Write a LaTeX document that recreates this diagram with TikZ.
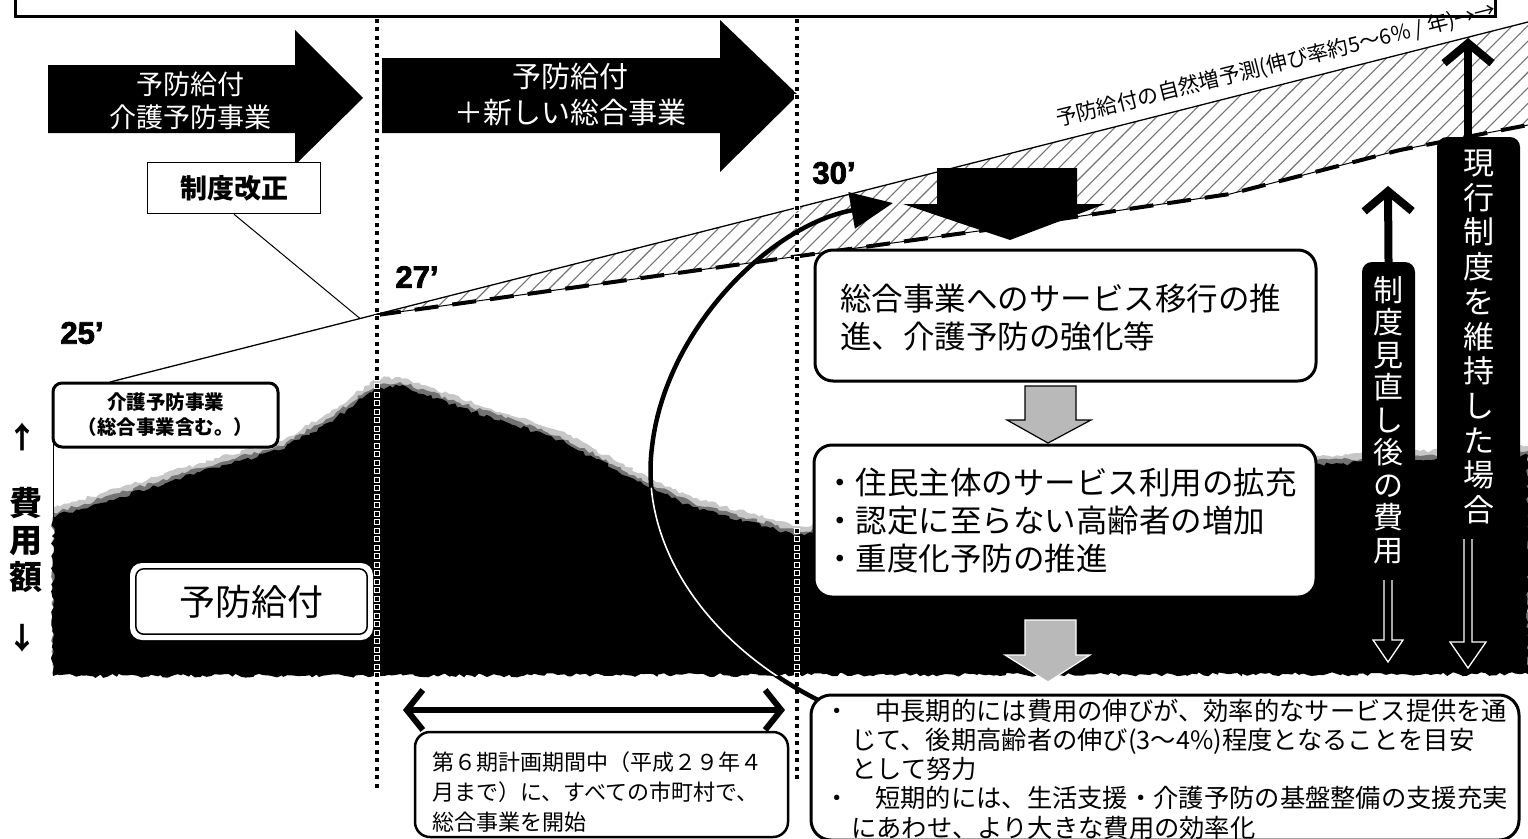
\documentclass[tikz,border=0pt]{standalone}
\usepackage{fontspec}
\setmainfont{Noto Sans CJK JP}
\newfontfamily\cjk{Noto Sans CJK JP}
\newfontfamily\numf{Liberation Sans}[BoldFeatures={FakeBold=2.5}]
\usetikzlibrary{arrows.meta,patterns.meta,decorations.pathmorphing,calc}
\newcommand\fsz[2]{\fontsize{#1}{#2}\selectfont}
\newcommand\blackshape[1]{#1 (53,676) -- (53,517) -- (120,497) -- (200,472) -- (280,450) -- (330,422) -- (377,388) -- (400,386) -- (460,407) -- (560,440) -- (650,488) -- (693,507) -- (797,535) -- (900,527) -- (1000,518) -- (1100,508) -- (1200,492) -- (1316,465) -- (1420,460) -- (1528,455) -- (1528,674) -- cycle;}
\newcommand\curvepath{(cstart) .. controls (700,640) and (640,540) .. (652,447) .. controls (665,330) and (770,225) .. (ctip)}
\tikzset{
  dotsq/.style={fill=black, draw=white, line width=0.7pt},
  arrtxt/.style={text=white, align=center, inner sep=0pt},
  rbox/.style={draw=black, line width=3pt, rounded corners=18pt, fill=white, inner sep=0pt},
  txt/.style={inner sep=0pt, align=left, anchor=west},
  vbox/.style={fill=black, rounded corners=10pt, text=white, align=center, inner sep=0pt},
  upar/.style={line width=8pt, -{Straight Barb[length=20pt,width=48pt]}},
  hollow/.style={draw=white, line width=1.3pt},
  numlbl/.style={font=\numf\bfseries\fsz{31}{36}, inner sep=0pt},
  grayarr/.style={fill=gray!55, line width=1.2pt},
  jag/.style={decorate, decoration={random steps, segment length=4pt, amplitude=2pt}},
}
\begin{document}
\begin{tikzpicture}[x=1pt,y=-1pt]
\path[use as bounding box, fill=white] (0,0) rectangle (1528,838);

% fuzzy halo and black cost region
\begin{scope}[yshift=9pt]
  \pgfmathsetseed{3}
  \blackshape{\fill[black!22, jag]}
\end{scope}
\begin{scope}[yshift=4pt]
  \pgfmathsetseed{5}
  \blackshape{\fill[black!55, jag]}
\end{scope}
\pgfmathsetseed{7}
\blackshape{\fill[black, jag]}

% hatched growth band
\fill[pattern={Lines[angle=45,distance=11pt,line width=1.1pt]}, pattern color=black!55]
  (377,314.2) -- (1528,22) -- (1528,125) -- (1400,150) -- (1230,194) -- (1000,228) -- cycle;
\coordinate (u0) at (110,382);
\coordinate (u1) at (1528,22);
\draw[line width=1.3pt] (u0) -- (u1);
\coordinate (d0) at (377,315);
\coordinate (d1) at (1528,125);
\draw[line width=1pt] (d0) -- (1000,228) -- (1230,194) -- (1400,150) -- (d1);
\draw[line width=4pt, dash pattern=on 24pt off 14pt] (d0) -- (1000,228) -- (1230,194) -- (1400,150) -- (d1);

% top frame
\draw[line width=3pt] (15,-5) -- (15,16) -- (1495,16) -- (1495,-5);

% period arrows
\fill (48,65) -- (295,65) -- (295,30) -- (363,98) -- (295,165) -- (295,133) -- (48,133) -- cycle;
\node[arrtxt, font=\cjk\fsz{27}{33}] (a1) at (190,101) {予防給付\\介護予防事業};
\fill (382,58) -- (720,58) -- (720,20) -- (798,95) -- (720,172) -- (720,133) -- (382,133) -- cycle;
\node[arrtxt, font=\cjk\fsz{29}{36}] (a2) at (570,95) {予防給付\\＋新しい総合事業};

% dotted verticals
\foreach \y in {18,26.5,...,785} {
  \path[dotsq] (374.5,\y) rectangle ++(5,5);
}
\foreach \y in {18,26.5,...,780} {
  \path[dotsq] (794.5,\y) rectangle ++(5,5);
}

% 制度改正
\node[draw, line width=1.5pt, fill=white, minimum width=173pt, minimum height=51pt, inner sep=0pt, font=\cjk\bfseries\fsz{27}{32}] (seido) at (234,188) {制度改正};
\coordinate (lead) at (360,318.5);
\draw[line width=1pt] (seido.south) -- (lead);

% big black down arrow
\fill (937,168) -- (1077,168) -- (1077,204) -- (1105,204) -- (1010,240) -- (903,204) -- (937,204) -- cycle;

% curved arrow
\coordinate (cstart) at (818,700);
\coordinate (ctip) at (893,203);
\draw[line width=4.5pt, -{Triangle[length=42pt,width=36pt]}] \curvepath;
\begin{scope}
  \pgfmathsetseed{7}
  \blackshape{\clip[jag]}
  \draw[white, line width=1.6pt] \curvepath;
\end{scope}

% years
\node[numlbl] (y25) at (82,333) {25’};
\node[numlbl] (y27) at (417,277) {27’};
\node[numlbl] (y30) at (834,173) {30’};

% left axis
\node[inner sep=0pt, font=\cjk\bfseries\fsz{30}{36}] (aup) at (23,437) {↑};
\node[inner sep=0pt, font=\cjk\bfseries\fsz{30}{36}] (adn) at (23,638) {↓};
\node[inner sep=0pt, align=center, font=\cjk\bfseries\fsz{33}{37}] (hiyou) at (26,540) {費\\用\\額};

% 介護予防事業 box
\draw[line width=1pt] (53,440) -- (53,520);
\node[draw, line width=3pt, rounded corners=9pt, fill=white, minimum width=225pt, minimum height=64pt, inner sep=0pt, align=center, font=\cjk\bfseries\fsz{19.5}{25}] (kbox) at (165.5,415) {介護予防事業\\（総合事業含む。）};

% 予防給付 box
\node[fill=white, rounded corners=12pt, minimum width=243pt, minimum height=77pt, inner sep=0pt, font=\cjk\fsz{36}{40}] (ybox) at (251.5,601.5) {予防給付};
\draw[line width=1.5pt, rounded corners=8pt] ($(ybox.south west)+(6,-6)$) rectangle ($(ybox.north east)+(-6,6)$);

% right boxes
\node[rbox, minimum width=501pt, minimum height=131pt] (b1) at (1065.5,315.5) {};
\node[txt, font=\cjk\fsz{31.5}{38}] (b1t) at (840,318) {総合事業へのサービス移行の推\\進、介護予防の強化等};
\path[grayarr, draw=black] (1025,386) -- (1076,386) -- (1076,420) -- (1091,420) -- (1048,443) -- (1007,420) -- (1025,420) -- cycle;
\node[rbox, minimum width=502pt, minimum height=152pt] (b2) at (1065,521) {};
\node[txt, font=\cjk\fsz{31.5}{38}] (b2t) at (824,521) {・住民主体のサービス利用の拡充\\・認定に至らない高齢者の増加\\・重度化予防の推進};
\path[grayarr, draw=white] (1025,620) -- (1076,620) -- (1076,655) -- (1090,655) -- (1048,682) -- (1005,655) -- (1025,655) -- cycle;

% vertical cost labels
\node[vbox, minimum width=53pt, minimum height=316pt, font=\cjk\fsz{30}{32.5}] (r1) at (1388.5,420) {制\\度\\見\\直\\し\\後\\の\\費\\用};
\node[vbox, minimum width=83pt, minimum height=400pt, font=\cjk\fsz{31}{34.7}] (r2) at (1478.5,337) {現\\行\\制\\度\\を\\維\\持\\し\\た\\場\\合};
\coordinate (t1) at (1388,186);
\coordinate (t2) at (1468,38);
\draw[upar] (r1.north) -- (t1);
\draw[upar] (1468,137) -- (t2);
\path[hollow] (1384,580) -- (1384,640) -- (1373,640) -- (1388,662) -- (1403,640) -- (1392,640) -- (1392,580);
\path[hollow] (1464,539) -- (1464,642) -- (1450,642) -- (1468,668) -- (1486,642) -- (1472,642) -- (1472,539);

% growth label
\node[inner sep=0pt, rotate=14, font=\cjk\fsz{21}{24}] (grow) at (1276,65) {予防給付の自然増予測(伸び率約5～6\% / 年)→→};

% bottom period arrow and boxes
\coordinate (dl) at (403,710);
\coordinate (dr) at (785,710);
\draw[line width=6pt, {Straight Barb[length=16pt,width=40pt]}-{Straight Barb[length=16pt,width=40pt]}] (dl) -- (dr);
\node[draw, line width=2.5pt, rounded corners=15pt, fill=white, minimum width=373pt, minimum height=105pt, inner sep=0pt] (bl) at (601.5,784.5) {};
\node[txt, font=\cjk\fsz{22}{30}] (blt) at (432,792) {第６期計画期間中（平成２９年４\\月まで）に、すべての市町村で、\\総合事業を開始};
\node[rbox, rounded corners=20pt, minimum width=708pt, minimum height=145pt] (br) at (1165,767.5) {};
\node[txt, font=\cjk\fsz{25.3}{29.3}] (brt) at (851,769) {\hspace*{-26.6pt}・　中長期的には費用の伸びが、効率的なサービス提供を通\\じて、後期高齢者の伸び(3～4\%)程度となることを目安\\として努力\\\hspace*{-26.6pt}・　短期的には、生活支援・介護予防の基盤整備の支援充実\\にあわせ、より大きな費用の効率化};
\end{tikzpicture}
\end{document}
